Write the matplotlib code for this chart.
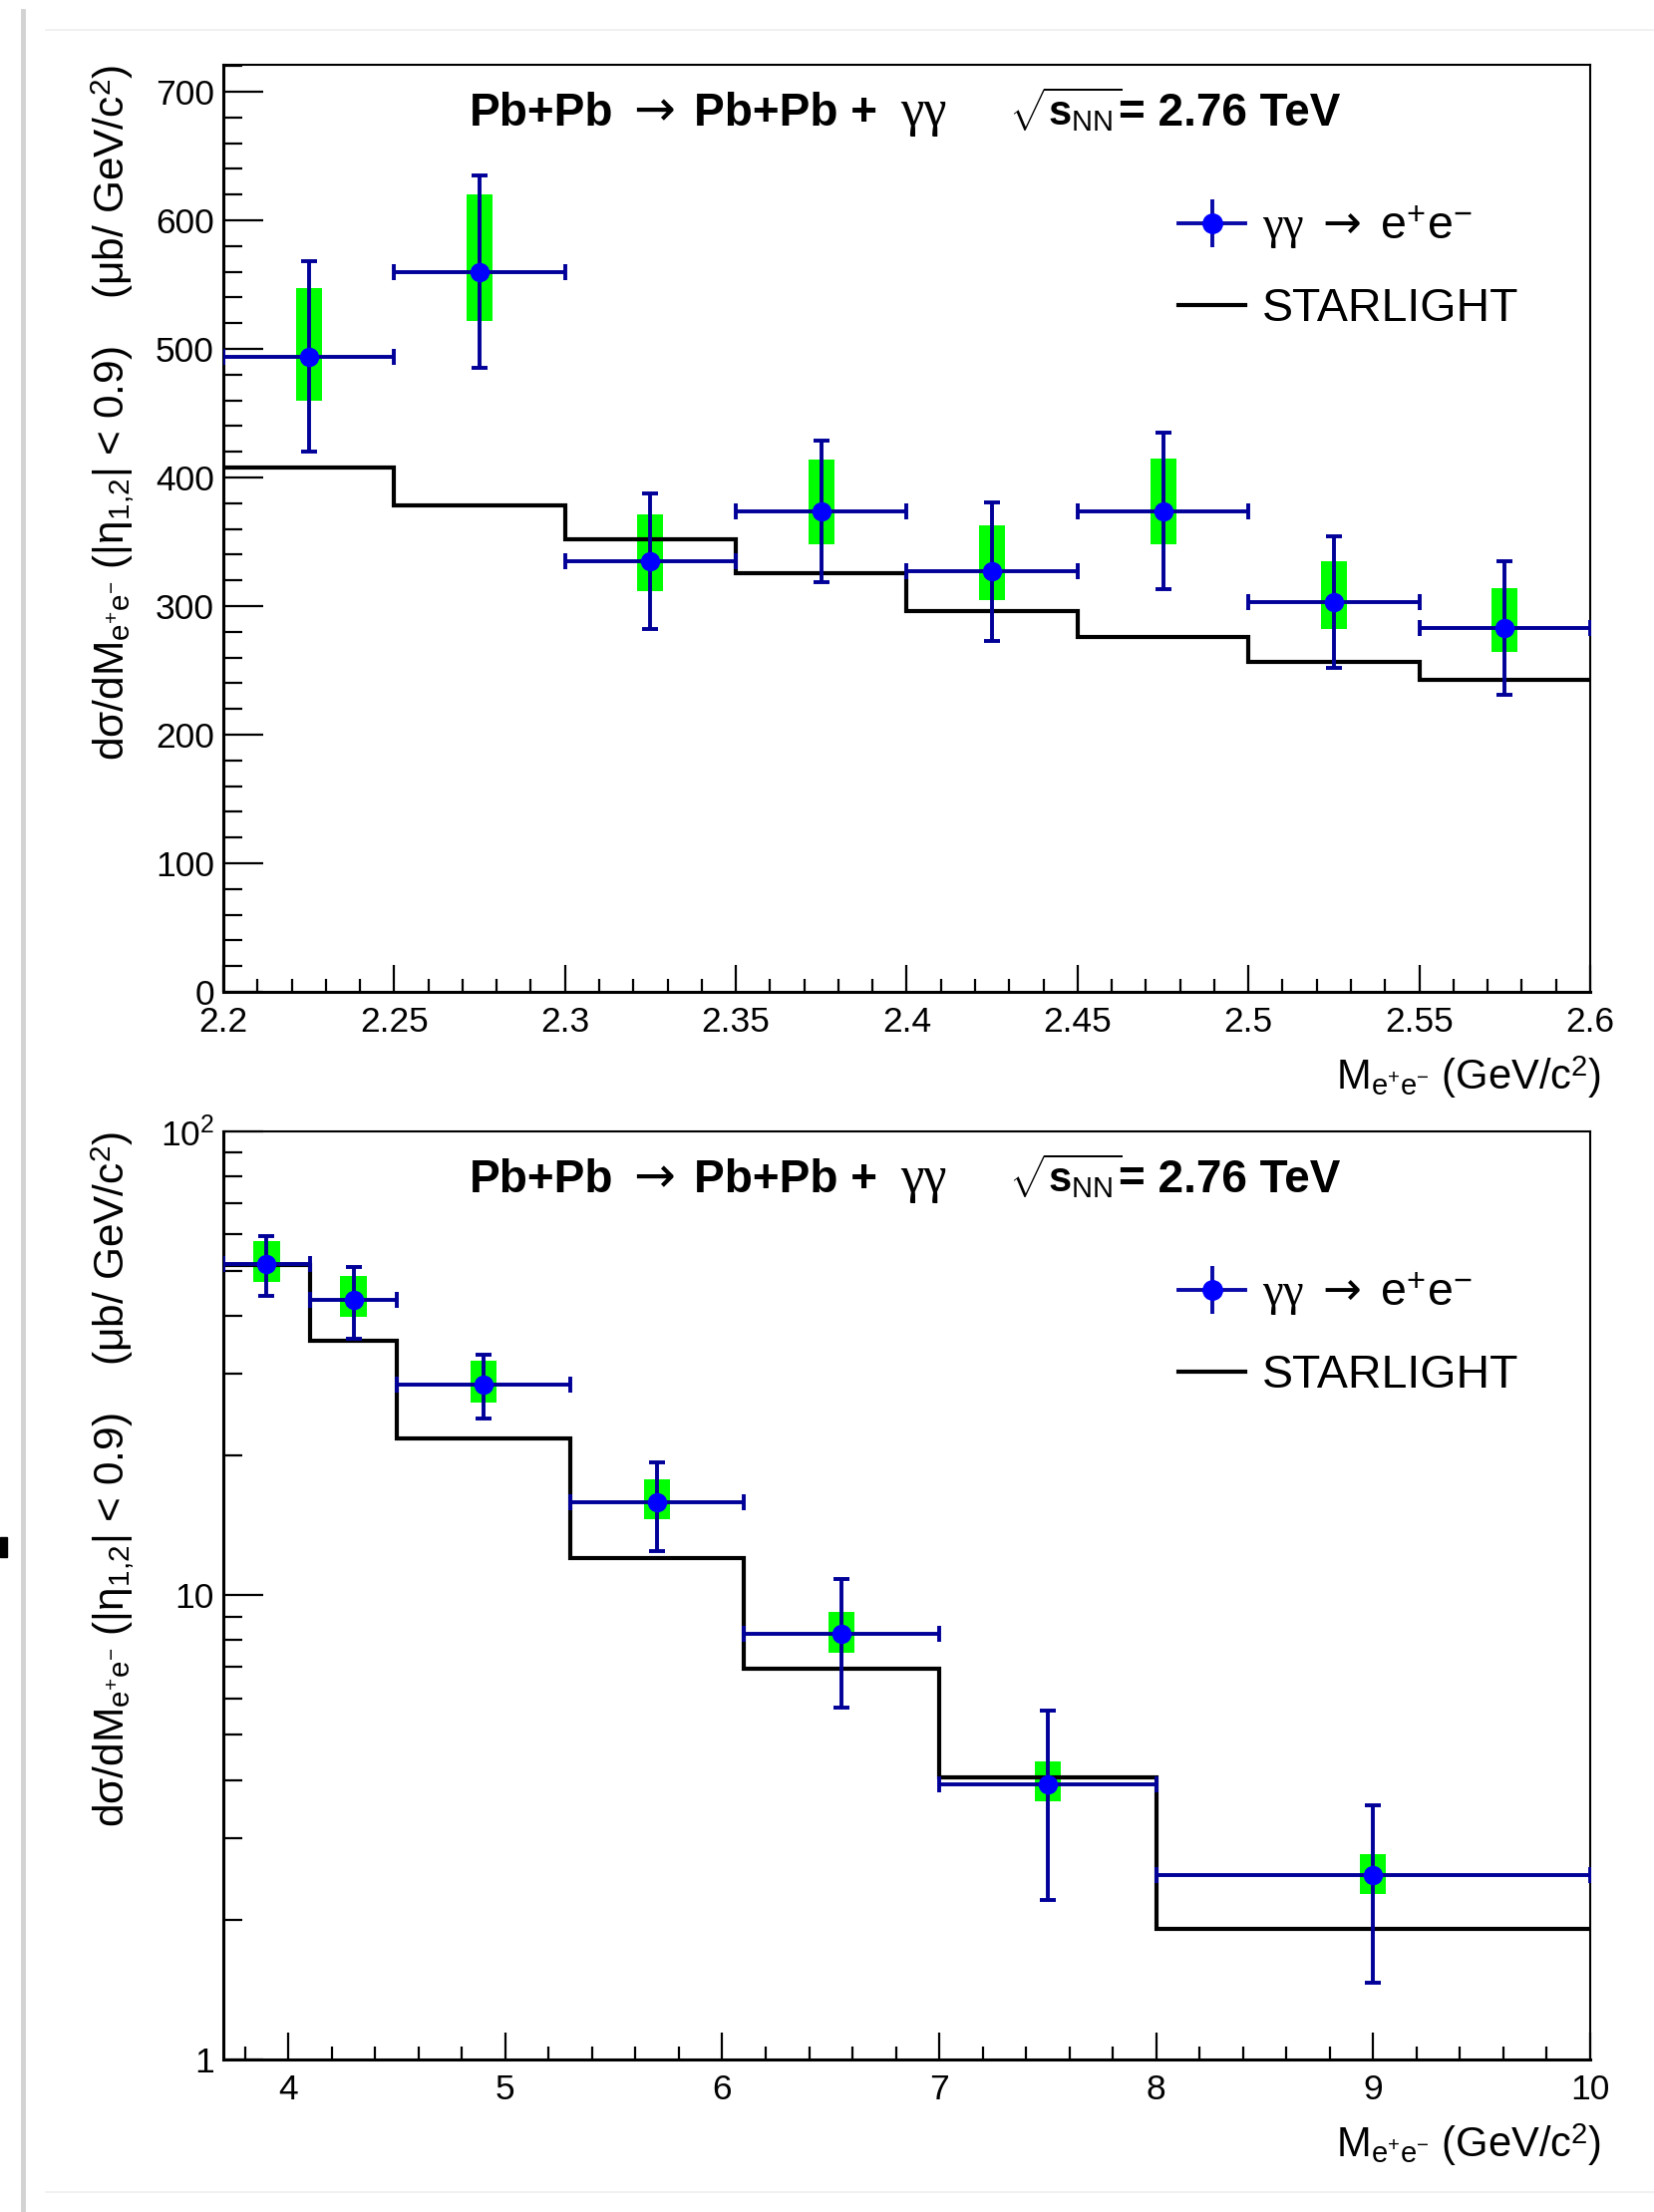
import numpy as np
import matplotlib
matplotlib.use("Agg")
import matplotlib.pyplot as plt
from matplotlib.lines import Line2D
from matplotlib.patches import Rectangle
from matplotlib.legend_handler import HandlerTuple
from matplotlib.ticker import (MultipleLocator, FixedLocator, FuncFormatter,
                               NullFormatter, LogLocator)

plt.rcParams['font.family'] = ['Liberation Sans', 'DejaVu Sans']
plt.rcParams['mathtext.fontset'] = 'custom'
plt.rcParams['mathtext.rm'] = 'Liberation Sans'
plt.rcParams['mathtext.it'] = 'Liberation Serif'
plt.rcParams['mathtext.bf'] = 'Liberation Sans:bold'
plt.rcParams['mathtext.sf'] = 'DejaVu Sans'

# low mass region, 2.2 < M < 2.6 GeV/c^2
edges_low = [2.2, 2.25, 2.3, 2.35, 2.4, 2.45, 2.5, 2.55, 2.6]
xs_low = [2.225, 2.275, 2.325, 2.375, 2.425, 2.475, 2.525, 2.575]
data_low = [494, 560, 335, 374, 327, 374, 303, 283]
stat_low = [74, 75, 53, 55, 54, 61, 51, 52]
sys_up_low = [53, 60, 36, 40, 36, 41, 32, 31]
sys_dn_low = [34, 38, 23, 26, 22, 26, 21, 19]
starlight_low = [407.5, 378.5, 352, 325.5, 296.5, 276, 256.5, 243]

# high mass region, 3.7 < M < 10 GeV/c^2
edges_high = [3.7, 4.1, 4.5, 5.3, 6.1, 7.0, 8.0, 10.0]
xs_high = [3.9, 4.3, 4.9, 5.7, 6.55, 7.5, 9.0]
data_high = [51.8, 43.4, 28.5, 15.9, 8.28, 3.92, 2.49]
stat_high = [7.7, 7.7, 4.5, 3.45, 2.55, 1.72, 1.03]
sys_up_high = [6.3, 5.3, 3.5, 1.9, 0.94, 0.47, 0.28]
sys_dn_high = [4.5, 3.5, 2.5, 1.3, 0.76, 0.33, 0.22]
starlight_high = [51.5, 35.3, 21.8, 12.0, 6.95, 4.05, 1.91]

GREEN = '#00ff00'
DARKBLUE = '#000099'
BLUE = '#0000ff'

fig = plt.figure(figsize=(16.59, 22.19), dpi=100)
ax1 = fig.add_axes([0.135, 0.5516, 0.8264, 0.4191])
ax2 = fig.add_axes([0.135, 0.0690, 0.8264, 0.4196])


def draw_panel(ax, edges, xs, ys, stat, sys_up, sys_dn, boxw, model):
    edges = np.array(edges)
    xs = np.array(xs)
    ys = np.array(ys)
    sys_up = np.array(sys_up)
    sys_dn = np.array(sys_dn)
    ax.bar(xs, sys_up + sys_dn, width=boxw, bottom=ys - sys_dn, color=GREEN,
           lw=0, zorder=1)
    ax.stairs(model, edges, color='k', lw=3, baseline=None, zorder=2)
    xerr = [xs - edges[:-1], edges[1:] - xs]
    ax.errorbar(xs, ys, xerr=xerr, yerr=stat, fmt='o', ms=13, color=BLUE,
                ecolor=DARKBLUE, elinewidth=2.8, capsize=6, capthick=2.8,
                zorder=3)

    ax.tick_params(which='both', direction='in', top=False, right=False,
                   labelsize=25.5, width=1.6)
    ax.tick_params(axis='y', which='major', length=28.5, pad=6.5)
    ax.tick_params(axis='y', which='minor', length=14)
    ax.tick_params(axis='x', which='major', length=19.5, pad=10)
    ax.tick_params(axis='x', which='minor', length=9.5)
    for side in ['left', 'bottom']:
        ax.spines[side].set_linewidth(2.2)
    for side in ['top', 'right']:
        ax.spines[side].set_linewidth(1.5)

    ax.set_ylabel('dσ/dM$_{\\mathregular{e^{+}e^{-}}}$ (|η$_{\\mathregular{1{,}2}}$| < 0.9)'
                  '    (μb/ GeV/c$^{\\mathregular{2}}$)', fontsize=30.5, loc='top')
    ax.yaxis.set_label_coords(-0.072, 1.0)
    ax.yaxis.label.set_verticalalignment('baseline')
    ax.set_xlabel('M$_{\\mathregular{e^{+}e^{-}}}$ (GeV/c$^{\\mathregular{2}}$)',
                  fontsize=30, loc='right')
    ax.xaxis.set_label_coords(1.008, -0.1054)
    ax.xaxis.label.set_verticalalignment('baseline')

    # header, placed piece by piece as in the original
    ty = 0.9344
    ax.text(0.1802, ty, 'Pb+Pb', transform=ax.transAxes, fontsize=33,
            fontweight='bold', va='baseline')
    ax.text(0.3000, ty, '→', transform=ax.transAxes, fontsize=36,
            family='DejaVu Sans', va='baseline')
    ax.text(0.3443, ty, 'Pb+Pb +', transform=ax.transAxes, fontsize=33,
            fontweight='bold', va='baseline')
    ax.text(0.4953, ty, 'γγ', transform=ax.transAxes, fontsize=38,
            family='Liberation Serif', va='baseline')
    ax.text(0.5745, ty, '$\\sqrt{\\mathbf{s}_{\\mathrm{NN}}}$', transform=ax.transAxes,
            fontsize=30, va='baseline')
    ax.text(0.6550, ty, '= 2.76 TeV', transform=ax.transAxes, fontsize=33,
            fontweight='bold', va='baseline')

    h_cross = Line2D([], [], color='#0a0aa8', lw=2.8, marker='|', ms=34, mew=2.8)
    h_dot = Line2D([], [], ls='none', marker='o', ms=14, color=BLUE)
    h_model = Line2D([], [], color='k', lw=3)
    ax.legend([(h_cross, h_dot), h_model],
              ['$\\gamma\\gamma\\ \\mathsf{\\rightarrow}\\ $e$^{\\mathregular{+}}$e$^{\\mathregular{-}}$',
               'STARLIGHT'],
              handler_map={tuple: HandlerTuple(ndivide=1)},
              loc='upper left', bbox_to_anchor=(0.699, 0.850), frameon=False,
              fontsize=33.5, borderpad=0, borderaxespad=0, handlelength=1.44,
              handletextpad=0.35, labelspacing=0.77)


draw_panel(ax1, edges_low, xs_low, data_low, stat_low, sys_up_low, sys_dn_low,
           0.0076, starlight_low)
ax1.set_xlim(2.2, 2.6)
ax1.set_ylim(0, 721)
ax1.xaxis.set_major_locator(MultipleLocator(0.05))
ax1.xaxis.set_minor_locator(MultipleLocator(0.01))
ax1.xaxis.set_major_formatter(FuncFormatter(lambda v, p: f'{v:g}'))
ax1.yaxis.set_major_locator(MultipleLocator(100))
ax1.yaxis.set_minor_locator(MultipleLocator(20))

draw_panel(ax2, edges_high, xs_high, data_high, stat_high, sys_up_high, sys_dn_high,
           0.12, starlight_high)
ax2.set_yscale('log')
ax2.set_xlim(3.7, 10)
ax2.set_ylim(1, 100)
ax2.xaxis.set_major_locator(MultipleLocator(1))
ax2.xaxis.set_minor_locator(MultipleLocator(0.2))
ax2.yaxis.set_major_locator(FixedLocator([1, 10, 100]))
ax2.yaxis.set_major_formatter(FuncFormatter(
    lambda v, p: {1: '1', 10: '10', 100: '$\\mathregular{10^{2}}$'}.get(int(round(v)), '')))
ax2.yaxis.set_minor_locator(LogLocator(base=10, subs=np.arange(2, 10)))
ax2.yaxis.set_minor_formatter(NullFormatter())

# screenshot frame
fig.add_artist(Line2D([0.0139, 0.0139], [0.0, 0.995], transform=fig.transFigure,
                      color='#d2d2d2', lw=3.5))
fig.add_artist(Line2D([0.028, 1.0], [0.9865, 0.9865], transform=fig.transFigure,
                      color='#efefef', lw=1.2))
fig.add_artist(Line2D([0.028, 1.0], [0.009, 0.009], transform=fig.transFigure,
                      color='#efefef', lw=1.2))
fig.add_artist(Rectangle((0.0, 1 - 1562 / 2219), 7 / 1659, 20 / 2219,
                         transform=fig.transFigure, color='k'))

fig.savefig('out.png', dpi=100)
